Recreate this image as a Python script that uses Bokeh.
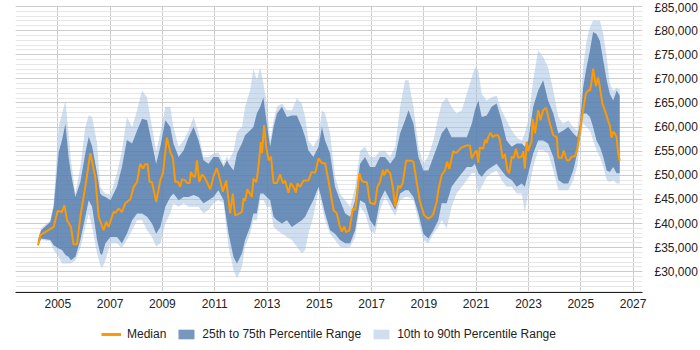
from bokeh.plotting import figure
from bokeh.layouts import column
from bokeh.models import FixedTicker, Legend, LegendItem, Range1d, ColumnDataSource
from bokeh.embed import file_html
from bokeh.resources import INLINE

# ---- data (salary values in £ thousands, x in decimal years) ----
median_years = [
    2004.24, 2004.33, 2004.84, 2004.99, 2005.16, 2005.25, 2005.35, 2005.50, 2005.60, 2005.73,
    2005.86, 2006.05, 2006.24, 2006.43, 2006.56, 2006.75, 2006.85, 2006.94, 2007.13, 2007.20,
    2007.32, 2007.45, 2007.58, 2007.77, 2007.90, 2008.03, 2008.15, 2008.26, 2008.34, 2008.43,
    2008.51, 2008.60, 2008.76, 2008.92, 2009.02, 2009.17, 2009.30, 2009.40, 2009.49, 2009.59,
    2009.68, 2009.75, 2009.87, 2009.94, 2010.04, 2010.09, 2010.19, 2010.25, 2010.32, 2010.41,
    2010.51, 2010.60, 2010.70, 2010.83, 2010.95, 2011.08, 2011.21, 2011.31, 2011.44, 2011.59,
    2011.69, 2011.78, 2011.91, 2012.04, 2012.10, 2012.16, 2012.25, 2012.42, 2012.48, 2012.59,
    2012.64, 2012.71, 2012.76, 2012.81, 2012.89, 2012.97, 2013.06, 2013.15, 2013.25, 2013.38,
    2013.50, 2013.61, 2013.69, 2013.82, 2013.91, 2014.01, 2014.11, 2014.16, 2014.27, 2014.39,
    2014.58, 2014.71, 2014.84, 2014.97, 2015.10, 2015.22, 2015.35, 2015.54, 2015.67, 2015.77,
    2015.86, 2015.95, 2016.02, 2016.15, 2016.28, 2016.37, 2016.43, 2016.53, 2016.62, 2016.71,
    2016.82, 2016.94, 2017.13, 2017.22, 2017.32, 2017.43, 2017.48, 2017.58, 2017.71, 2017.81,
    2017.90, 2018.02, 2018.09, 2018.19, 2018.32, 2018.53, 2018.60, 2018.73, 2018.85, 2019.01,
    2019.17, 2019.30, 2019.36, 2019.49, 2019.55, 2019.68, 2019.81, 2019.89, 2019.97, 2020.12,
    2020.23, 2020.45, 2020.64, 2020.76, 2020.83, 2020.95, 2021.02, 2021.08, 2021.14, 2021.27,
    2021.34, 2021.40, 2021.46, 2021.55, 2021.63, 2021.72, 2021.84, 2021.91, 2022.01, 2022.10,
    2022.19, 2022.26, 2022.36, 2022.44, 2022.52, 2022.61, 2022.74, 2022.80, 2022.86, 2022.93,
    2022.99, 2023.12, 2023.16, 2023.25, 2023.37, 2023.46, 2023.56, 2023.67, 2023.82, 2023.95,
    2024.08, 2024.14, 2024.27, 2024.35, 2024.46, 2024.56, 2024.65, 2024.77, 2024.86, 2024.97,
    2025.09, 2025.19, 2025.28, 2025.35, 2025.41, 2025.47, 2025.58, 2025.66, 2025.73, 2025.83,
    2025.92, 2026.04, 2026.11, 2026.18, 2026.24, 2026.30, 2026.37, 2026.43, 2026.49,
]
median_k = [
    35.5, 37.6, 39.3, 42.6, 42.4, 43.8, 40.7, 39.3, 35.7, 35.7,
    41.4, 47.6, 54.6, 49.7, 41.4, 38.6, 40.4, 39.3, 42.4, 42.2,
    43.1, 42.4, 44.2, 45.0, 47.6, 48.6, 52.4, 51.4, 52.3, 52.3,
    48.6, 48.6, 44.5, 49.0, 50.4, 57.8, 54.8, 53.6, 48.6, 48.7,
    47.6, 49.2, 49.0, 48.4, 48.4, 50.7, 49.7, 49.7, 53.1, 48.6,
    50.2, 49.7, 48.6, 47.1, 49.7, 51.5, 48.9, 46.6, 48.9, 42.1,
    46.2, 41.7, 42.0, 42.4, 45.2, 44.7, 47.1, 45.5, 49.3, 48.6,
    50.4, 53.8, 56.9, 54.6, 60.4, 55.9, 53.1, 53.9, 48.4, 48.4,
    50.2, 48.3, 48.9, 46.4, 48.4, 47.6, 46.4, 48.3, 47.6, 48.9,
    48.9, 50.7, 50.5, 53.5, 52.5, 52.5, 48.9, 42.8, 42.1, 39.7,
    38.3, 39.4, 38.2, 38.6, 43.1, 42.8, 45.2, 50.4, 48.9, 48.6,
    48.6, 44.3, 44.0, 47.6, 48.6, 51.1, 50.0, 51.2, 50.4, 47.6,
    43.5, 47.9, 47.3, 48.4, 53.0, 53.0, 52.8, 48.4, 44.5, 41.7,
    41.0, 41.5, 42.0, 44.5, 46.9, 50.0, 51.1, 52.8, 51.3, 55.0,
    54.6, 55.8, 56.2, 56.2, 53.5, 54.8, 55.1, 52.6, 55.8, 55.5,
    57.4, 56.7, 57.9, 58.8, 57.9, 58.3, 58.3, 57.2, 53.5, 54.4,
    51.1, 50.4, 53.9, 53.6, 55.5, 53.6, 53.9, 55.0, 51.4, 56.9,
    55.0, 57.2, 61.7, 58.7, 63.5, 61.4, 63.5, 64.0, 60.7, 58.3,
    57.9, 53.7, 53.6, 55.1, 53.1, 53.1, 53.9, 53.9, 55.3, 59.3,
    63.5, 66.9, 67.6, 67.5, 69.3, 72.1, 68.5, 70.3, 68.2, 64.8,
    63.5, 61.4, 60.3, 57.8, 59.0, 58.7, 57.9, 54.4, 53.0,
]

band_years = [
    2004.24, 2004.36, 2004.71, 2004.84, 2005.03, 2005.16, 2005.29, 2005.41, 2005.50, 2005.67,
    2005.86, 2006.05, 2006.18, 2006.31, 2006.50, 2006.62, 2006.69, 2006.82, 2007.01, 2007.26,
    2007.45, 2007.64, 2007.84, 2008.03, 2008.22, 2008.41, 2008.60, 2008.76, 2008.92, 2009.11,
    2009.30, 2009.42, 2009.62, 2009.81, 2010.00, 2010.19, 2010.38, 2010.57, 2010.76, 2010.95,
    2011.14, 2011.34, 2011.47, 2011.53, 2011.72, 2011.85, 2012.04, 2012.16, 2012.35, 2012.48,
    2012.61, 2012.74, 2012.86, 2012.99, 2013.12, 2013.25, 2013.38, 2013.57, 2013.76, 2013.95,
    2014.14, 2014.33, 2014.46, 2014.58, 2014.77, 2014.97, 2015.10, 2015.22, 2015.41, 2015.60,
    2015.79, 2015.99, 2016.18, 2016.37, 2016.56, 2016.75, 2016.94, 2017.13, 2017.32, 2017.51,
    2017.71, 2017.90, 2018.09, 2018.28, 2018.41, 2018.60, 2018.79, 2018.98, 2019.17, 2019.36,
    2019.55, 2019.68, 2019.87, 2020.06, 2020.25, 2020.45, 2020.64, 2020.83, 2020.95, 2021.08,
    2021.21, 2021.40, 2021.59, 2021.78, 2021.97, 2022.16, 2022.36, 2022.55, 2022.74, 2022.86,
    2022.99, 2023.18, 2023.37, 2023.56, 2023.75, 2023.95, 2024.14, 2024.33, 2024.52, 2024.71,
    2024.86, 2024.97, 2025.09, 2025.22, 2025.35, 2025.47, 2025.60, 2025.73, 2025.86, 2025.99,
    2026.11, 2026.24, 2026.37, 2026.49,
]
p10_k = [
    35.3, 36.6, 36.3, 34.5, 33.1, 31.7, 31.7, 31.7, 31.7, 32.4,
    34.9, 39.3, 42.0, 39.3, 33.8, 31.4, 30.7, 32.4, 35.9, 35.9,
    34.9, 36.6, 38.6, 40.7, 40.7, 38.6, 37.2, 35.2, 35.9, 40.0,
    42.1, 44.2, 43.5, 44.2, 43.5, 43.5, 43.5, 42.1, 42.8, 44.2,
    44.8, 44.2, 37.9, 35.2, 30.3, 28.6, 31.0, 35.2, 37.9, 40.7,
    40.7, 44.8, 44.8, 43.5, 43.5, 39.3, 38.6, 37.9, 37.2, 36.6,
    35.2, 33.8, 34.5, 37.9, 41.4, 46.9, 43.5, 40.7, 37.9, 36.6,
    35.2, 34.9, 35.2, 37.2, 43.5, 42.1, 38.6, 37.9, 42.8, 45.5,
    43.5, 41.5, 44.8, 45.5, 45.5, 44.8, 40.7, 36.6, 35.9, 37.9,
    39.3, 40.7, 39.0, 43.5, 46.2, 47.6, 49.0, 50.4, 50.4, 46.2,
    47.6, 49.7, 50.4, 51.0, 49.0, 47.6, 47.6, 46.2, 46.2, 42.4,
    46.2, 51.7, 55.2, 55.2, 54.5, 51.0, 46.9, 46.9, 46.9, 49.0,
    51.7, 56.6, 60.7, 60.0, 59.3, 57.2, 55.2, 53.8, 51.7, 49.0,
    48.6, 49.0, 48.3, 48.3,
]
p25_k = [
    35.3, 36.9, 36.6, 35.5, 34.8, 34.5, 33.5, 33.1, 32.4, 33.1,
    36.6, 41.4, 44.8, 43.5, 36.6, 33.8, 33.5, 35.9, 37.2, 37.2,
    35.9, 37.9, 40.7, 42.1, 42.1, 41.4, 40.0, 37.9, 39.3, 43.5,
    45.5, 46.2, 44.8, 45.5, 45.5, 45.9, 45.5, 44.2, 44.8, 45.5,
    46.9, 44.8, 40.0, 37.9, 33.0, 31.7, 33.8, 36.6, 39.3, 42.1,
    42.1, 46.2, 46.2, 45.5, 44.8, 41.4, 40.7, 40.0, 40.7, 39.3,
    40.0, 40.7, 41.4, 42.8, 44.8, 47.6, 44.8, 42.1, 38.6, 37.9,
    36.6, 35.9, 35.9, 38.6, 44.8, 44.2, 40.7, 39.3, 44.8, 46.9,
    44.8, 42.8, 46.2, 46.9, 46.9, 45.5, 42.1, 37.9, 36.9, 38.6,
    40.7, 44.2, 44.2, 47.6, 49.0, 50.4, 51.7, 51.7, 52.4, 50.4,
    49.7, 51.0, 51.7, 52.4, 51.0, 49.7, 49.0, 47.6, 48.3, 47.6,
    50.4, 54.5, 57.2, 57.2, 56.6, 53.8, 49.0, 48.3, 48.3, 51.0,
    54.5, 57.9, 62.8, 62.8, 62.1, 60.0, 57.2, 55.9, 53.8, 51.0,
    50.7, 51.7, 50.4, 50.4,
]
p75_k = [
    36.6, 38.6, 40.3, 43.5, 54.8, 57.3, 60.7, 53.8, 50.4, 45.5,
    48.6, 54.5, 58.0, 56.0, 50.4, 46.2, 45.8, 45.5, 44.8, 47.6,
    51.7, 57.3, 56.6, 59.3, 61.7, 61.4, 56.6, 52.4, 55.9, 61.4,
    60.0, 56.6, 53.8, 55.2, 57.9, 60.0, 57.2, 53.1, 52.4, 53.8,
    53.8, 51.7, 53.1, 52.4, 51.0, 54.5, 56.6, 58.3, 59.3, 60.0,
    62.8, 64.2, 66.2, 60.7, 55.9, 60.0, 62.8, 64.2, 62.1, 62.4,
    62.4, 60.0, 57.9, 55.2, 53.8, 55.9, 60.0, 57.2, 54.5, 47.6,
    44.8, 42.1, 41.4, 44.8, 52.4, 53.8, 51.7, 51.7, 53.8, 53.8,
    52.4, 53.8, 58.7, 61.4, 63.5, 60.7, 53.8, 51.0, 51.0, 53.8,
    56.6, 58.7, 60.0, 57.9, 57.9, 57.9, 57.9, 60.7, 63.5, 65.5,
    62.1, 62.4, 64.2, 64.9, 61.4, 57.2, 55.9, 56.6, 56.6, 55.9,
    57.2, 64.2, 67.6, 69.7, 65.5, 62.8, 58.7, 59.3, 60.0, 58.7,
    57.9, 60.7, 68.2, 72.4, 75.9, 79.7, 79.3, 77.9, 73.8, 69.7,
    66.9, 65.5, 67.6, 66.5,
]
p90_k = [
    36.8, 39.0, 40.6, 44.2, 60.0, 62.8, 65.5, 58.7, 53.1, 46.2,
    51.7, 60.0, 62.4, 62.1, 56.6, 47.6, 47.0, 46.2, 45.9, 50.4,
    55.1, 62.1, 60.0, 63.5, 67.6, 66.2, 60.0, 55.1, 58.7, 64.2,
    64.2, 60.0, 55.9, 57.2, 59.3, 62.1, 58.7, 53.8, 53.8, 54.5,
    54.8, 52.4, 54.0, 53.1, 55.0, 59.0, 60.0, 64.2, 67.6, 72.1,
    69.7, 72.4, 69.0, 64.9, 57.2, 61.4, 64.2, 64.9, 63.5, 63.5,
    65.9, 64.9, 62.1, 57.2, 55.9, 57.9, 63.5, 62.8, 58.7, 49.7,
    46.2, 44.8, 43.5, 47.6, 55.1, 55.9, 53.8, 53.8, 55.1, 55.1,
    53.8, 55.9, 64.2, 69.7, 69.7, 64.2, 55.9, 52.4, 54.0, 57.2,
    62.1, 64.9, 66.2, 64.2, 62.8, 63.5, 66.9, 70.3, 72.4, 71.7,
    66.9, 65.5, 66.2, 66.5, 63.5, 61.4, 59.3, 57.9, 57.2, 58.7,
    61.4, 69.7, 75.9, 74.5, 72.4, 67.6, 62.1, 60.7, 61.4, 60.0,
    59.3, 63.5, 72.4, 77.9, 80.7, 82.1, 82.1, 82.1, 79.3, 74.5,
    69.0, 67.6, 68.2, 67.8,
]

year_ticks = [2005, 2007, 2009, 2011, 2013, 2015, 2017, 2019, 2021, 2023, 2025, 2027]
pound_ticks = [30000, 35000, 40000, 45000, 50000, 55000, 60000, 65000, 70000, 75000, 80000, 85000]
pound_labels = ["£30,000", "£35,000", "£40,000", "£45,000", "£50,000", "£55,000",
                "£60,000", "£65,000", "£70,000", "£75,000", "£80,000", "£85,000"]
legend_labels = ["Median", "25th to 75th Percentile Range", "10th to 90th Percentile Range"]

# ---- styles ----
FONT = "Liberation Sans"
MED_COLOR = "#ff9900"
DARK_COLOR, DARK_ALPHA = "#4974a6", 0.75
LIGHT_COLOR, LIGHT_ALPHA = "#a9c4e2", 0.55

# ---- main chart ----
med_src = ColumnDataSource(dict(x=median_years, y=[v * 1000 for v in median_k]))
band_src = ColumnDataSource(dict(
    x=band_years,
    p10=[v * 1000 for v in p10_k], p25=[v * 1000 for v in p25_k],
    p75=[v * 1000 for v in p75_k], p90=[v * 1000 for v in p90_k]))

p = figure(width=700, height=315, output_backend="svg", toolbar_location=None,
           x_range=Range1d(2003.38, 2027.36), y_range=Range1d(25700, 85200),
           y_axis_location="right",
           min_border_left=15, min_border_right=57, min_border_top=5, min_border_bottom=23)
p.outline_line_color = None
p.background_fill_color = "white"
p.border_fill_color = "white"

r_light = p.varea(x="x", y1="p10", y2="p90", source=band_src,
                  fill_color=LIGHT_COLOR, fill_alpha=LIGHT_ALPHA)
r_dark = p.varea(x="x", y1="p25", y2="p75", source=band_src,
                 fill_color=DARK_COLOR, fill_alpha=DARK_ALPHA)
r_med = p.line(x="x", y="y", source=med_src, line_color=MED_COLOR, line_width=2)

p.xaxis.ticker = FixedTicker(ticks=year_ticks)
p.xgrid.ticker = FixedTicker(ticks=year_ticks)
yt = FixedTicker(ticks=pound_ticks, minor_ticks=list(range(26000, 86000, 1000)))
p.yaxis.ticker = yt
p.ygrid.ticker = yt
p.yaxis.major_label_overrides = {t: l for t, l in zip(pound_ticks, pound_labels)}

p.xgrid.grid_line_color = "#cccccc"
p.ygrid.grid_line_color = "#cccccc"
p.ygrid.minor_grid_line_color = "#e6e6e6"

for ax in (p.xaxis[0], p.yaxis[0]):
    ax.major_tick_line_color = None
    ax.minor_tick_line_color = None
    ax.major_tick_out = 0
    ax.major_tick_in = 0
    ax.major_label_text_font = FONT
    ax.major_label_text_font_size = "12px"
    ax.major_label_text_color = "#222222"
p.xaxis.axis_line_color = "#222222"
p.xaxis.major_label_standoff = 6
p.yaxis.axis_line_color = None
p.yaxis.major_label_standoff = 8

# ---- legend strip (reuses the main chart's data sources; ranges keep them off-view) ----
leg = figure(width=700, height=35, output_backend="svg", toolbar_location=None,
             x_range=Range1d(0, 1), y_range=Range1d(0, 1),
             x_axis_type=None, y_axis_type=None, min_border=0)
leg.outline_line_color = None
leg.xgrid.visible = False
leg.ygrid.visible = False
leg.border_fill_color = "white"

l_light = leg.varea(x="x", y1="p10", y2="p90", source=band_src,
                    fill_color=LIGHT_COLOR, fill_alpha=LIGHT_ALPHA)
l_dark = leg.varea(x="x", y1="p25", y2="p75", source=band_src,
                   fill_color=DARK_COLOR, fill_alpha=DARK_ALPHA)
l_med = leg.line(x="x", y="y", source=med_src, line_color=MED_COLOR, line_width=3)

legend = Legend(items=[
    LegendItem(label=legend_labels[0], renderers=[l_med]),
    LegendItem(label=legend_labels[1], renderers=[l_dark]),
    LegendItem(label=legend_labels[2], renderers=[l_light]),
], orientation="horizontal", location=(86, 9),
    border_line_color=None, background_fill_alpha=0,
    label_text_font=FONT, label_text_font_size="12px", label_text_color="#222222",
    glyph_width=20, glyph_height=12, spacing=10, label_standoff=6,
    margin=0, padding=6)
leg.add_layout(legend, "center")

layout = column(p, leg, spacing=0)
open("out.html", "w").write(file_html(layout, INLINE))
